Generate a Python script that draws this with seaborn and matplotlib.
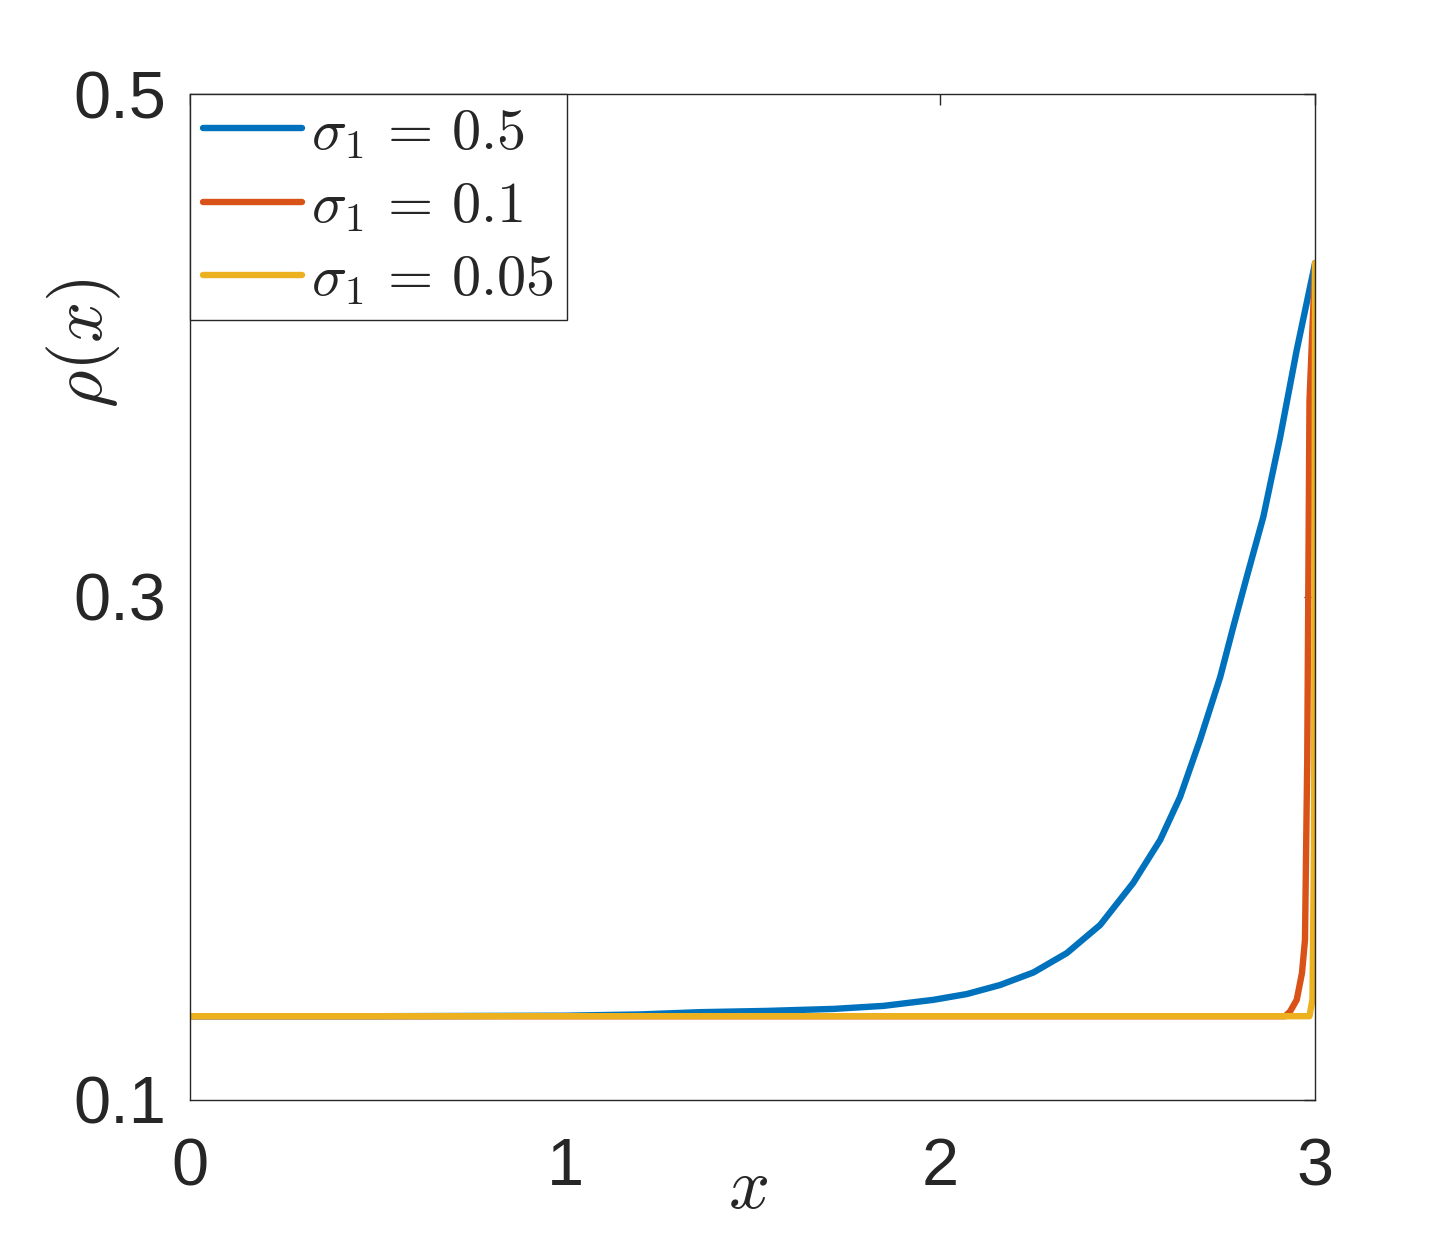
import matplotlib
matplotlib.use("Agg")
import matplotlib.pyplot as plt
import pandas as pd
import seaborn as sns

# values
x_s05 = [0.0, 0.5, 1.0, 1.2, 1.36, 1.538, 1.716, 1.849, 1.982, 2.071, 2.16, 2.249,
         2.338, 2.427, 2.515, 2.587, 2.64, 2.693, 2.747, 2.782, 2.818, 2.862,
         2.907, 2.951, 3.0]
y_s05 = [0.1333, 0.1333, 0.1335, 0.1340, 0.1349, 0.1354, 0.1362, 0.1374, 0.1398,
         0.1421, 0.1457, 0.1507, 0.1584, 0.1696, 0.1863, 0.2034, 0.2205, 0.2431,
         0.2682, 0.2882, 0.3081, 0.3319, 0.3637, 0.3982, 0.4328]

x_s01 = [0.0, 1.0, 2.0, 2.92, 2.933, 2.951, 2.965, 2.973, 2.979, 2.985, 3.0]
y_s01 = [0.1333, 0.1333, 0.1333, 0.1333, 0.1351, 0.1398, 0.1505, 0.1636, 0.2352,
         0.378, 0.4328]

x_s005 = [0.0, 1.0, 2.0, 2.985, 2.993, 2.997, 3.0]
y_s005 = [0.1333, 0.1333, 0.1333, 0.1333, 0.14, 0.2, 0.4328]

labels = [r"$\sigma_1 \,=\, 0.5$", r"$\sigma_1 \,=\, 0.1$", r"$\sigma_1 \,=\, 0.05$"]
colors = ["#0072BD", "#D95319", "#EDB120"]

x_ticks = [0, 1, 2, 3]
y_ticks = [0.1, 0.3, 0.5]

frames = []
for lab, xs, ys in zip(labels, [x_s05, x_s01, x_s005], [y_s05, y_s01, y_s005]):
    frames.append(pd.DataFrame({"x": xs, "rho": ys, "series": lab}))
df = pd.concat(frames, ignore_index=True)

sns.set_theme(style="white")
plt.rcParams["font.family"] = ["Liberation Sans", "DejaVu Sans"]
plt.rcParams["mathtext.fontset"] = "cm"

fig = plt.figure(figsize=(14.53, 12.37), dpi=100)
ax = fig.add_axes([0.1308, 0.1108, 0.7743, 0.8132])

sns.lineplot(data=df, x="x", y="rho", hue="series", palette=colors,
             linewidth=4.6, ax=ax, sort=False, estimator=None)

ax.set_xlim(0, 3)
ax.set_ylim(0.1, 0.5)
ax.set_xticks(x_ticks)
ax.set_yticks(y_ticks)
ax.set_xticklabels([str(t) for t in x_ticks])
ax.set_yticklabels([f"{t:.1f}" for t in y_ticks])
ax.tick_params(direction="in", length=8, width=1, colors="#262626",
               top=True, right=True, labelsize=48)
ax.tick_params(axis="x", pad=27)
ax.tick_params(axis="y", pad=17)
for sp in ax.spines.values():
    sp.set_color("#262626")
    sp.set_linewidth(1)

ax.set_xlabel(r"$x$", fontsize=52)
ax.set_ylabel(r"$\rho(x)$", fontsize=52)
ax.xaxis.set_label_coords(0.496, -0.056)
ax.yaxis.set_label_coords(-0.06, 0.7525)

leg = ax.legend(loc="upper left", borderaxespad=0, fontsize=42, fancybox=False,
                edgecolor="#262626", framealpha=1, handlelength=1.7,
                handletextpad=0.15, labelspacing=0.33, borderpad=0.22)
leg.get_frame().set_linewidth(1)

fig.savefig("out.png", dpi=100)
